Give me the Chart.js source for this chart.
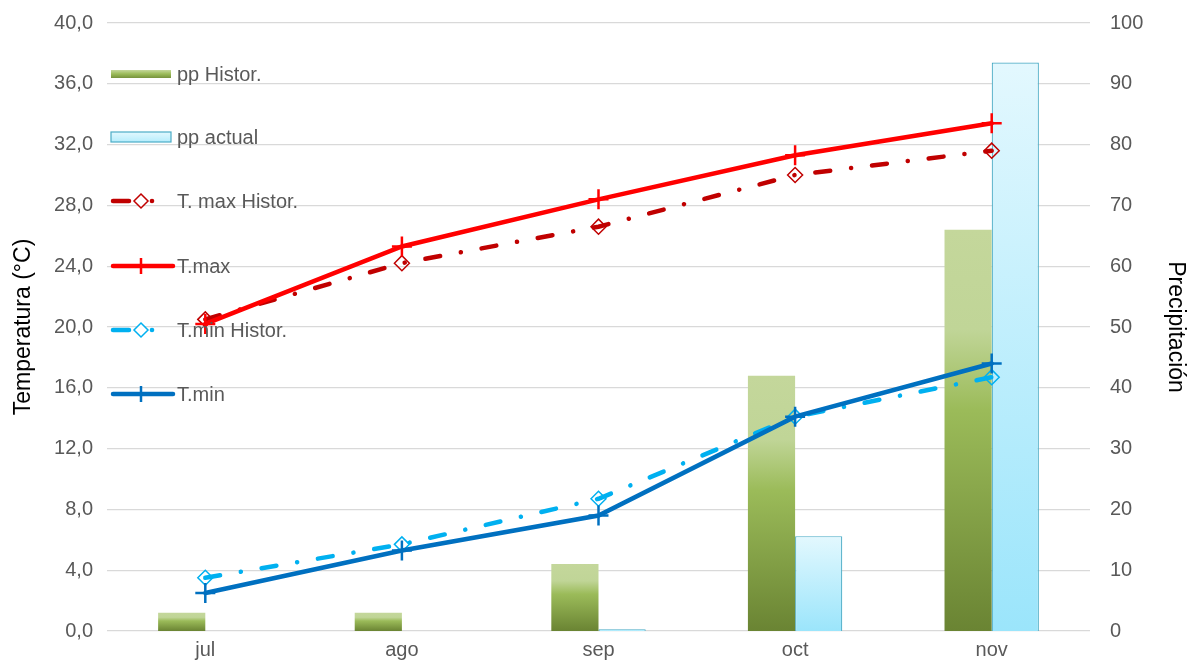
<!DOCTYPE html>
<html>
<head>
<meta charset="utf-8">
<script src="https://cdn.jsdelivr.net/npm/chart.js@4.4.1/dist/chart.umd.min.js"></script>
<style>
html,body{margin:0;padding:0;background:#fff;}
#wrap{width:1189px;height:668px;}
</style>
</head>
<body>
<div id="wrap"><canvas id="c" width="1189" height="668"></canvas></div>
<script>
const categories = ['jul', 'ago', 'sep', 'oct', 'nov'];
const ppHistor = [3.0, 3.0, 11.0, 42.0, 66.0];
const ppActual = [0, 0, 0.3, 15.6, 93.5];
const tMaxHistor = [20.5, 24.2, 26.6, 30.0, 31.6];
const tMax = [20.2, 25.3, 28.4, 31.3, 33.4];
const tMinHistor = [3.5, 5.7, 8.7, 14.1, 16.7];
const tMin = [2.5, 5.3, 7.6, 14.1, 17.6];

const FONT = "'Liberation Sans', Arial, sans-serif";
const TICK_SIZE = 20;

function barGradient(ctx, stops) {
  const chart = ctx.chart;
  const area = chart.chartArea;
  if (!area || ctx.type !== 'data') return stops[0][1];
  const ys = chart.scales.y1;
  const v = ctx.raw || 0;
  const top = ys.getPixelForValue(v);
  const bot = ys.getPixelForValue(0);
  const g = chart.ctx.createLinearGradient(0, top, 0, Math.max(bot, top + 1));
  stops.forEach(s => g.addColorStop(s[0], s[1]));
  return g;
}
const greenStops = [[0, '#C4D79B'], [0.25, '#C0D597'], [0.45, '#9BBB59'], [1, '#6A8433']];
const blueStops = [[0, '#E3F8FE'], [1, '#9BE5FB']];

const legendPlugin = {
  id: 'customLegend',
  afterDatasetsDraw(chart) {
    const c = chart.ctx;
    const items = chart.data.datasets;
    const x0 = 111, x1 = 171;
    const rows = [74, 137, 201, 266, 330, 394];
    c.save();
    items.forEach((ds, i) => {
      const y = rows[i];
      if (ds.type === 'bar') {
        if (i === 0) {
          const g = c.createLinearGradient(0, y - 4, 0, y + 4);
          g.addColorStop(0, '#C4D79B'); g.addColorStop(0.5, '#9BBB59'); g.addColorStop(1, '#76923C');
          c.fillStyle = g;
          c.fillRect(x0, y - 4, x1 - x0, 8);
        } else {
          const g = c.createLinearGradient(0, y - 5, 0, y + 5);
          g.addColorStop(0, '#E3F8FE'); g.addColorStop(1, '#B5EDFC');
          c.fillStyle = g;
          c.fillRect(x0, y - 5, x1 - x0, 10);
          c.strokeStyle = '#4BACC6'; c.lineWidth = 1.2;
          c.strokeRect(x0, y - 5, x1 - x0, 10);
        }
      } else {
        c.strokeStyle = ds.borderColor;
        c.lineWidth = ds.borderWidth;
        c.lineCap = 'round';
        if (ds.borderDash && ds.borderDash.length) {
          c.beginPath(); c.moveTo(x0 + 2, y); c.lineTo(x0 + 18, y); c.stroke();
          c.beginPath(); c.arc(x0 + 41, y, 2.3, 0, Math.PI * 2); c.fillStyle = ds.borderColor; c.fill();
        } else {
          c.beginPath(); c.moveTo(x0 + 2, y); c.lineTo(x1 + 2, y); c.stroke();
        }
        const mx = x0 + 30;
        if (ds.pointStyle === 'cross') {
          c.lineWidth = 2.5; c.lineCap = 'butt';
          c.beginPath(); c.moveTo(mx, y - 8); c.lineTo(mx, y + 8); c.stroke();
        } else {
          c.lineWidth = 1.5;
          c.strokeStyle = ds.pointBorderColor;
          c.beginPath(); c.moveTo(mx, y - 7); c.lineTo(mx + 7, y); c.lineTo(mx, y + 7); c.lineTo(mx - 7, y); c.closePath();
          c.fillStyle = '#fff'; c.fill(); c.stroke();
        }
      }
      c.fillStyle = '#595959';
      c.font = TICK_SIZE + 'px ' + FONT;
      c.textBaseline = 'middle';
      c.textAlign = 'left';
      c.fillText(ds.label, 177, y + 1);
    });
    c.restore();
  }
};

new Chart(document.getElementById('c'), {
  data: {
    labels: categories,
    datasets: [
      {
        type: 'bar', label: 'pp Histor.', data: ppHistor, yAxisID: 'y1', order: 2,
        backgroundColor: ctx => barGradient(ctx, greenStops),
        borderWidth: 0,
        categoryPercentage: 0.48, barPercentage: 1.0
      },
      {
        type: 'bar', label: 'pp actual', data: ppActual, yAxisID: 'y1', order: 2,
        backgroundColor: ctx => barGradient(ctx, blueStops),
        borderColor: '#4BACC6', borderWidth: 1.2,
        categoryPercentage: 0.48, barPercentage: 1.0
      },
      {
        type: 'line', label: 'T. max Histor.', data: tMaxHistor, yAxisID: 'y', order: 1,
        borderColor: '#C00000', borderWidth: 4.5, borderDash: [15, 21, 0.1, 21], borderCapStyle: 'round',
        pointStyle: 'rectRot', pointRadius: 7.5, pointBorderColor: '#C00000', pointBorderWidth: 1.5,
        pointBackgroundColor: 'rgba(0,0,0,0)', tension: 0, fill: false
      },
      {
        type: 'line', label: 'T.max', data: tMax, yAxisID: 'y', order: 0,
        borderColor: '#FF0000', borderWidth: 4.5, borderCapStyle: 'round',
        pointStyle: 'cross', pointRadius: 10, pointBorderColor: '#FF0000', pointBorderWidth: 2.5,
        tension: 0, fill: false
      },
      {
        type: 'line', label: 'T.min Histor.', data: tMinHistor, yAxisID: 'y', order: 1,
        borderColor: '#00B0F0', borderWidth: 4.5, borderDash: [15, 21, 0.1, 21], borderCapStyle: 'round',
        pointStyle: 'rectRot', pointRadius: 7.5, pointBorderColor: '#00B0F0', pointBorderWidth: 1.5,
        pointBackgroundColor: 'rgba(0,0,0,0)', tension: 0, fill: false
      },
      {
        type: 'line', label: 'T.min', data: tMin, yAxisID: 'y', order: 0,
        borderColor: '#0070C0', borderWidth: 4.5, borderCapStyle: 'round',
        pointStyle: 'cross', pointRadius: 10, pointBorderColor: '#0070C0', pointBorderWidth: 2.5,
        tension: 0, fill: false
      }
    ]
  },
  options: {
    responsive: false,
    animation: false,
    layout: { padding: { top: 23, right: 0, left: 8, bottom: 0 } },
    plugins: { legend: { display: false }, tooltip: { enabled: false } },
    scales: {
      x: {
        offset: true,
        grid: { display: false, drawTicks: false },
        border: { display: false },
        ticks: { color: '#595959', font: { family: FONT, size: TICK_SIZE }, padding: 7 },
        afterFit(s) { s.height = 37; s.paddingLeft = 0; s.paddingRight = 0; }
      },
      y: {
        position: 'left', min: 0, max: 40,
        ticks: { stepSize: 4, color: '#595959', font: { family: FONT, size: TICK_SIZE }, padding: 14,
          callback: v => v.toFixed(1).replace('.', ',') },
        grid: { color: '#D9D9D9', lineWidth: 1.3, drawTicks: false },
        border: { display: false },
        title: { display: true, text: 'Temperatura (°C)', color: '#000', font: { family: FONT, size: 23 }, padding: 2 },
        afterFit(s) { s.width = 99; s.paddingTop = 0; s.paddingBottom = 0; }
      },
      y1: {
        position: 'right', min: 0, max: 100,
        ticks: { stepSize: 10, color: '#595959', font: { family: FONT, size: TICK_SIZE }, padding: 20 },
        grid: { display: false, drawTicks: false },
        border: { display: false },
        title: { display: true, text: 'Precipitación', color: '#000', font: { family: FONT, size: 23 }, padding: 0 },
        afterFit(s) { s.width = 99; s.paddingTop = 0; s.paddingBottom = 0; }
      }
    }
  },
  plugins: [legendPlugin]
});
</script>
</body>
</html>
